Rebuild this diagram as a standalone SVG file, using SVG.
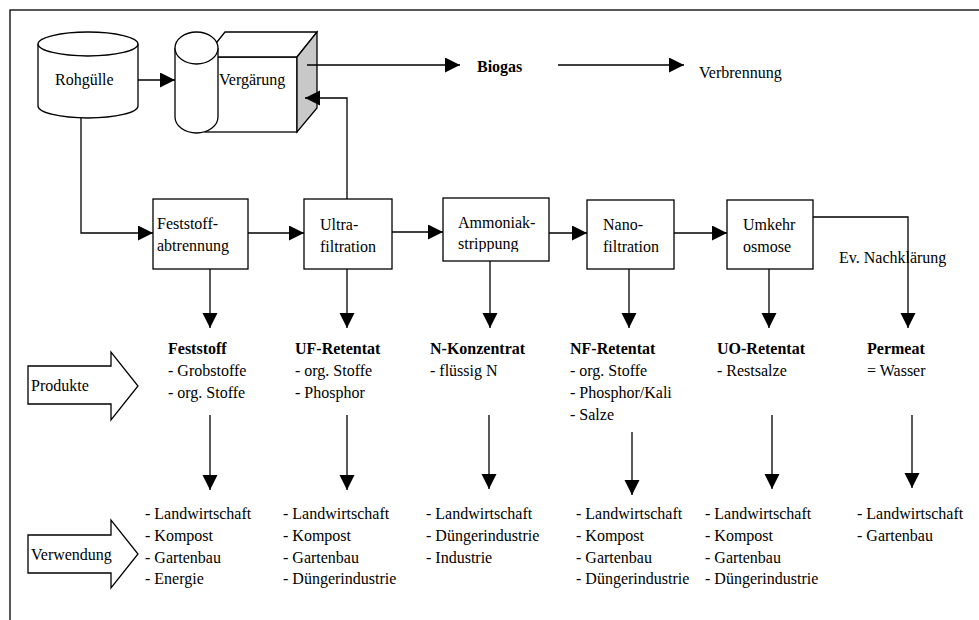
<svg xmlns="http://www.w3.org/2000/svg" width="979" height="620" viewBox="0 0 979 620">
<style>
text{font-family:"Liberation Serif","Times New Roman","DejaVu Serif",serif;font-size:16px;fill:#000}
.b{font-weight:bold}
.s{fill:none;stroke:#000;stroke-width:1.3}
.w{fill:#fff;stroke:#000;stroke-width:1.3}
.g{fill:#c8c8c8;stroke:#000;stroke-width:1.3}
.c{fill:none;stroke:#000;stroke-width:1.3}
</style>
<defs>
<marker id="ah" markerUnits="userSpaceOnUse" markerWidth="16" markerHeight="16" refX="15" refY="7.5" orient="auto">
<path d="M0,0 L15,7.5 L0,15 Z" fill="#000"/>
</marker>
<clipPath id="clipAm"><rect x="443" y="198" width="106" height="54"/></clipPath>
</defs>
<rect x="0" y="0" width="979" height="620" fill="#fff"/>
<rect id="frame" x="10" y="10" width="990" height="640" class="s"/>

<g id="rohguelle">
<path d="M38,44 L38,106 A50,12 0 0 0 138,106 L138,44" class="w"/>
<ellipse cx="88" cy="44" rx="50" ry="12" class="w"/>
<text x="55" y="85">Rohgülle</text>
</g>

<g id="vergaerung">
<rect x="205" y="57" width="92" height="75" class="w"/>
<path d="M205,57 L225,32 L317,32 L297,57 Z" class="w"/>
<path d="M297,57 L317,32 L317,108 L297,132 Z" class="g"/>
<path d="M175,48 L175,117 A21.5,16 0 0 0 218,117 L218,48" class="w"/>
<ellipse cx="196.5" cy="48" rx="21.5" ry="16" class="w"/>
<text x="219" y="85">Vergärung</text>
</g>

<g id="biogas"><text x="477" y="72" class="b">Biogas</text></g>
<g id="verbrennung"><text x="699" y="78">Verbrennung</text></g>

<g id="feststoffabtrennung">
<rect x="153" y="199" width="95" height="70" class="w"/>
<text x="157" y="229">Feststoff-</text>
<text x="157" y="251">abtrennung</text>
</g>
<g id="ultrafiltration">
<rect x="304" y="199" width="88" height="70" class="w"/>
<text x="320" y="230">Ultra-</text>
<text x="320" y="252">filtration</text>
</g>
<g id="ammoniakstrippung">
<rect x="443" y="198" width="106" height="63" class="w"/>
<g clip-path="url(#clipAm)">
<text x="458" y="228">Ammoniak-</text>
<text x="458" y="249">strippung</text>
</g>
</g>
<g id="nanofiltration">
<rect x="587" y="200" width="87" height="69" class="w"/>
<text x="603" y="230">Nano-</text>
<text x="603" y="252">filtration</text>
</g>
<g id="umkehrosmose">
<rect x="727" y="200" width="86" height="69" class="w"/>
<text x="743" y="230">Umkehr</text>
<text x="743" y="252">osmose</text>
</g>
<g id="nachklaerung"><text x="839" y="263">Ev. Nachklärung</text></g>

<g id="produkte">
<path d="M28,366 L111,366 L111,352 L138,386 L111,420 L111,404 L28,404 Z" class="w"/>
<text x="31" y="391">Produkte</text>
</g>
<g id="verwendung">
<path d="M28,535 L111,535 L111,520 L138,554 L111,588 L111,573 L28,573 Z" class="w"/>
<text x="31" y="560">Verwendung</text>
</g>

<g id="p-feststoff">
<text x="168" y="354" class="b">Feststoff</text>
<text x="168" y="376">- Grobstoffe</text>
<text x="168" y="398">- org. Stoffe</text>
</g>
<g id="p-uf">
<text x="295" y="354" class="b">UF-Retentat</text>
<text x="295" y="376">- org. Stoffe</text>
<text x="295" y="398">- Phosphor</text>
</g>
<g id="p-n">
<text x="430" y="354" class="b">N-Konzentrat</text>
<text x="430" y="376">- flüssig N</text>
</g>
<g id="p-nf">
<text x="570" y="354" class="b">NF-Retentat</text>
<text x="570" y="376">- org. Stoffe</text>
<text x="570" y="398">- Phosphor/Kali</text>
<text x="570" y="420">- Salze</text>
</g>
<g id="p-uo">
<text x="717" y="354" class="b">UO-Retentat</text>
<text x="717" y="376">- Restsalze</text>
</g>
<g id="p-permeat">
<text x="867" y="354" class="b">Permeat</text>
<text x="867" y="376">= Wasser</text>
</g>

<g id="v-feststoff">
<text x="145" y="519">- Landwirtschaft</text>
<text x="145" y="541">- Kompost</text>
<text x="145" y="563">- Gartenbau</text>
<text x="145" y="584">- Energie</text>
</g>
<g id="v-uf">
<text x="283" y="519">- Landwirtschaft</text>
<text x="283" y="541">- Kompost</text>
<text x="283" y="563">- Gartenbau</text>
<text x="283" y="584">- Düngerindustrie</text>
</g>
<g id="v-n">
<text x="426" y="519">- Landwirtschaft</text>
<text x="426" y="541">- Düngerindustrie</text>
<text x="426" y="563">- Industrie</text>
</g>
<g id="v-nf">
<text x="576" y="519">- Landwirtschaft</text>
<text x="576" y="541">- Kompost</text>
<text x="576" y="563">- Gartenbau</text>
<text x="576" y="584">- Düngerindustrie</text>
</g>
<g id="v-uo">
<text x="705" y="519">- Landwirtschaft</text>
<text x="705" y="541">- Kompost</text>
<text x="705" y="563">- Gartenbau</text>
<text x="705" y="584">- Düngerindustrie</text>
</g>
<g id="v-permeat">
<text x="857" y="519">- Landwirtschaft</text>
<text x="857" y="541">- Gartenbau</text>
</g>

<g id="connectors" class="c">
<path d="M138,80 L175,80" marker-end="url(#ah)"/>
<path d="M307,65 L460,65" marker-end="url(#ah)"/>
<path d="M558,65 L684,65" marker-end="url(#ah)"/>
<path d="M347,199 L347,98 L305,98" marker-end="url(#ah)"/>
<path d="M81,118 L81,233 L153,233" marker-end="url(#ah)"/>
<path d="M248,233 L304,233" marker-end="url(#ah)"/>
<path d="M392,232 L443,232" marker-end="url(#ah)"/>
<path d="M549,233 L587,233" marker-end="url(#ah)"/>
<path d="M674,233 L727,233" marker-end="url(#ah)"/>
<path d="M813,217 L908,217 L908,328" marker-end="url(#ah)"/>
<path d="M210,269 L210,328" marker-end="url(#ah)"/>
<path d="M347,269 L347,328" marker-end="url(#ah)"/>
<path d="M490,261 L490,328" marker-end="url(#ah)"/>
<path d="M629,269 L629,328" marker-end="url(#ah)"/>
<path d="M769,269 L769,328" marker-end="url(#ah)"/>
<path d="M210,415 L210,490" marker-end="url(#ah)"/>
<path d="M347,415 L347,490" marker-end="url(#ah)"/>
<path d="M489,415 L489,489" marker-end="url(#ah)"/>
<path d="M632,432 L632,495" marker-end="url(#ah)"/>
<path d="M772,415 L772,489" marker-end="url(#ah)"/>
<path d="M912,415 L912,488" marker-end="url(#ah)"/>
</g>
</svg>
